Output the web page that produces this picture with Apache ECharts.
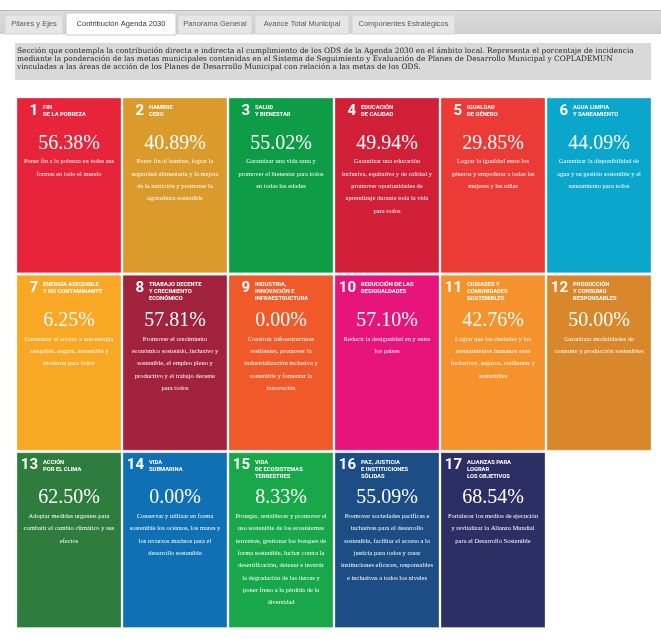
<!DOCTYPE html>
<html>
<head>
<meta charset="utf-8">
<script src="https://cdn.jsdelivr.net/npm/echarts@6/dist/echarts.min.js"></script>
<style>
html,body{margin:0;padding:0;background:#ffffff;}
#chart{width:661px;height:639px;}
</style>
</head>
<body>
<div id="chart"></div>
<script>
// ---- Data ----
const goalNumbers = ['1','2','3','4','5','6','7','8','9','10','11','12','13','14','15','16','17'];
const goalTitles = [
  'FIN\nDE LA POBREZA',
  'HAMBRE\nCERO',
  'SALUD\nY BIENESTAR',
  'EDUCACIÓN\nDE CALIDAD',
  'IGUALDAD\nDE GÉNERO',
  'AGUA LIMPIA\nY SANEAMIENTO',
  'ENERGÍA ASEQUIBLE\nY NO CONTAMINANTE',
  'TRABAJO DECENTE\nY CRECIMIENTO\nECONÓMICO',
  'INDUSTRIA,\nINNOVACIÓN E\nINFRAESTRUCTURA',
  'REDUCCIÓN DE LAS\nDESIGUALDADES',
  'CIUDADES Y\nCOMUNIDADES\nSOSTENIBLES',
  'PRODUCCIÓN\nY CONSUMO\nRESPONSABLES',
  'ACCIÓN\nPOR EL CLIMA',
  'VIDA\nSUBMARINA',
  'VIDA\nDE ECOSISTEMAS\nTERRESTRES',
  'PAZ, JUSTICIA\nE INSTITUCIONES\nSÓLIDAS',
  'ALIANZAS PARA\nLOGRAR\nLOS OBJETIVOS'
];
const goalValues = [56.38, 40.89, 55.02, 49.94, 29.85, 44.09, 6.25, 57.81, 0.00, 57.10, 42.76, 50.00, 62.50, 0.00, 8.33, 55.09, 68.54];
const goalDescriptions = [
  'Poner fin a la pobreza en todas sus\nformas en todo el mundo',
  'Poner fin al hambre, lograr la\nseguridad alimentaria y la mejora\nde la nutrición y promover la\nagricultura sostenible',
  'Garantizar una vida sana y\npromover el bienestar para todos\nen todas las edades',
  'Garantizar una educación\ninclusiva, equitativa y de calidad y\npromover oportunidades de\naprendizaje durante toda la vida\npara todos',
  'Lograr la igualdad entre los\ngéneros y empoderar a todas las\nmujeres y las niñas',
  'Garantizar la disponibilidad de\nagua y su gestión sostenible y el\nsaneamiento para todos',
  'Garantizar el acceso a una energía\nasequible, segura, sostenible y\nmoderna para todos',
  'Promover el crecimiento\neconómico sostenido, inclusivo y\nsostenible, el empleo pleno y\nproductivo y el trabajo decente\npara todos',
  'Construir infraestructuras\nresilientes, promover la\nindustrialización inclusiva y\nsostenible y fomentar la\ninnovación',
  'Reducir la desigualdad en y entre\nlos países',
  'Lograr que las ciudades y los\nasentamientos humanos sean\ninclusivos, seguros, resilientes y\nsostenibles',
  'Garantizar modalidades de\nconsumo y producción sostenibles',
  'Adoptar medidas urgentes para\ncombatir el cambio climático y sus\nefectos',
  'Conservar y utilizar en forma\nsostenible los océanos, los mares y\nlos recursos marinos para el\ndesarrollo sostenible',
  'Proteger, restablecer y promover el\nuso sostenible de los ecosistemas\nterrestres, gestionar los bosques de\nforma sostenible, luchar contra la\ndesertificación, detener e invertir\nla degradación de las tierras y\nponer freno a la pérdida de la\ndiversidad',
  'Promover sociedades pacíficas e\ninclusivas para el desarrollo\nsostenible, facilitar el acceso a la\njusticia para todos y crear\ninstituciones eficaces, responsables\ne inclusivas a todos los niveles',
  'Fortalecer los medios de ejecución\ny revitalizar la Alianza Mundial\npara el Desarrollo Sostenible'
];
const tabLabels = ['Pilares y Ejes', 'Contribución Agenda 2030', 'Panorama General', 'Avance Total Municipal', 'Componentes Estratégicos'];
const introLines = [
  'Sección que contempla la contribución directa e indirecta al cumplimiento de los ODS de la Agenda 2030 en el ámbito local. Representa el porcentaje de incidencia',
  'mediante la ponderación de las metas municipales contenidas en el Sistema de Seguimiento y Evaluación de Planes de Desarrollo Municipal y COPLADEMUN',
  'vinculadas a las áreas de acción de los Planes de Desarrollo Municipal con relación a las metas de los ODS.'
];

// ---- Styles ----
const tileColors = ['#e8243b','#da9b2c','#0e9c47','#d01f36','#ec3a37','#0ba6cc','#f9a825','#a1223c','#f05a2a','#e6147b','#f5922b','#d8872b','#2f7d3e','#1070b4','#18a84a','#1c4d84','#2b2f64'];
const tabBoxes = [[5,15,58,19],[66,13,110,22],[178,15,74,19],[255,15,94,19],[352,15,103,19]];
const activeTab = 1;

const chart = echarts.init(document.getElementById('chart'), null, {renderer:'canvas'});

const graphics = [];
graphics.push({type:'rect', shape:{x:0,y:10,width:661,height:1}, style:{fill:'#b8b8b8'}, silent:true});
graphics.push({type:'rect', shape:{x:0,y:11,width:661,height:23},
  style:{fill:new echarts.graphic.LinearGradient(0,0,0,1,[{offset:0,color:'#dcdcdc'},{offset:1,color:'#cfcfcf'}])}, silent:true});
tabLabels.forEach((t,i)=>{
  const b = tabBoxes[i];
  const act = i === activeTab;
  graphics.push({type:'rect', shape:{x:b[0],y:b[1],width:b[2],height:b[3]},
    style:{fill: act ? '#ffffff' : '#e6e6e6', stroke: act ? '#c8c8c8' : '#d2d2d2', lineWidth:1}, silent:true});
  graphics.push({type:'text', x:b[0]+b[2]/2, y:24,
    style:{text:t, fill: act ? '#333333' : '#5a5a5a', fontSize:7.5, fontFamily:'Liberation Sans, Arial, sans-serif', align:'center', verticalAlign:'middle'}, silent:true});
});
graphics.push({type:'rect', shape:{x:15,y:43,width:636,height:37}, style:{fill:'#d9d9d9'}, silent:true});
graphics.push({type:'text', x:17, y:47.5,
  style:{text:introLines.join('\n'), fill:'#1e1e1e', fontSize:7.4, lineHeight:7.8, fontFamily:'DejaVu Serif, serif', align:'left', verticalAlign:'top'}, silent:true});

const tileData = goalValues.map((v,i)=>[i%6, Math.floor(i/6), i, v]);

const option = {
  animation:false,
  backgroundColor:'#ffffff',
  grid:{left:17, top:98, width:636, height:532, containLabel:false},
  xAxis:{type:'category', data:[0,1,2,3,4,5], show:false},
  yAxis:{type:'category', data:[0,1,2], inverse:true, show:false},
  graphic: graphics,
  series:[{
    type:'custom',
    data: tileData,
    renderItem: function(params, api){
      const col = api.value(0), row = api.value(1), idx = api.value(2), val = api.value(3);
      const c = api.coord([col,row]);
      const s = api.size([1,1]);
      const x0 = c[0]-s[0]/2, y0 = c[1]-s[1]/2;
      const w = s[0]-2, h = s[1]-2.5;
      return {type:'group', children:[
        {type:'rect', shape:{x:x0,y:y0,width:w,height:h}, style:{fill:tileColors[idx], stroke:'rgba(255,255,255,0.5)', lineWidth:0.6}},
        {type:'text', style:{text:goalNumbers[idx], x:x0+21, y:y0+13, fill:'#ffffff', fontSize:15, fontWeight:'bold', fontFamily:'Roboto, Liberation Sans, sans-serif', align:'right', verticalAlign:'middle'}},
        {type:'text', style:{text:goalTitles[idx], x:x0+26, y:y0+6, fill:'#ffffff', fontSize:5.8, lineHeight:7, fontWeight:'bold', fontFamily:'Roboto, Liberation Sans, sans-serif', align:'left', verticalAlign:'top'}},
        {type:'text', style:{text:val.toFixed(2)+'%', x:x0+w/2, y:y0+45.5, fill:'#ffffff', fontSize:20, fontFamily:'Liberation Serif, Times New Roman, serif', align:'center', verticalAlign:'middle'}},
        {type:'text', style:{text:goalDescriptions[idx], x:x0+w/2, y:y0+57.5, fill:'#ffffff', fontSize:6.5, lineHeight:12.3, fontFamily:'Liberation Serif, Times New Roman, serif', align:'center', verticalAlign:'top'}}
      ]};
    }
  }]
};
chart.setOption(option);
</script>
</body>
</html>
